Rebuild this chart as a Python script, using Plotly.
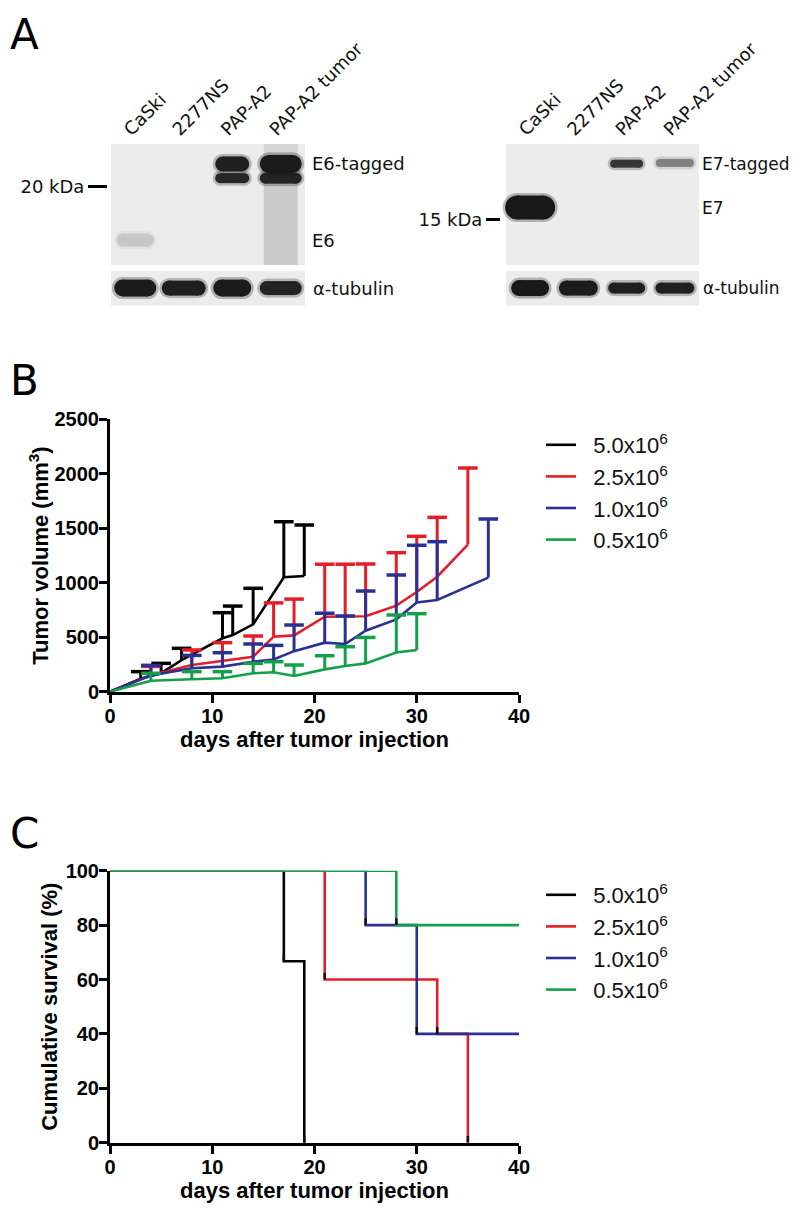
import plotly.graph_objects as go

# ---------------- DATA ----------------
lanes = ["CaSki", "2277NS", "PAP-A2", "PAP-A2 tumor"]

# E6 blot (apparent kDa)
e6_band_lane = [0, 2, 2, 3, 3]
e6_band_kda = [12.5, 23.2, 21.2, 23.2, 21.2]
e6_band_intensity = [0.13, 0.92, 0.88, 0.95, 0.9]
e6_smear_lane = [3, 3]
e6_smear_top = [26.0, 20.5]
e6_smear_bottom = [23.5, 9.0]
e6_smear_intensity = [0.10, 0.15]
e6_marker_kda = [20]
e6_marker_text = ["20 kDa"]
e6_labels = ["E6-tagged", "E6"]
e6_label_kda = [23.2, 12.5]

# E7 blot
e7_band_lane = [0, 2, 3]
e7_band_kda = [16.6, 22.4, 22.5]
e7_band_intensity = [0.97, 0.8, 0.42]
e7_marker_kda = [15]
e7_marker_text = ["15 kDa"]
e7_labels = ["E7-tagged", "E7"]
e7_label_kda = [22.4, 16.6]

# alpha-tubulin loading controls
tub_e6_intensity = [0.95, 0.93, 0.95, 0.9]
tub_e7_intensity = [0.97, 0.95, 0.93, 0.93]

# Panel B: tumor volume (mm3), mean and upper error
groups = ["5.0x10<sup>6</sup>", "2.5x10<sup>6</sup>", "1.0x10<sup>6</sup>", "0.5x10<sup>6</sup>"]
b_days = [
    [0, 3, 5, 7, 11, 12, 14, 17, 19],
    [0, 4, 8, 11, 14, 16, 18, 21, 23, 25, 28, 30, 32, 35],
    [0, 4, 8, 11, 14, 16, 18, 21, 23, 25, 28, 30, 32, 37],
    [0, 4, 8, 11, 14, 16, 18, 21, 23, 25, 28, 30],
]
b_mean = [
    [0, 120, 170, 290, 490, 520, 618, 1050, 1062],
    [0, 150, 245, 285, 321, 505, 517, 688, 688, 692, 790, 915, 1055, 1350],
    [0, 150, 215, 230, 275, 295, 372, 450, 438, 560, 664, 818, 842, 1047],
    [0, 100, 114, 123, 169, 178, 144, 205, 236, 260, 360, 383],
]
b_err = [
    [None, 64, 90, 108, 235, 266, 331, 510, 468],
    [None, 82, 138, 165, 190, 310, 333, 482, 482, 480, 486, 511, 545, 703],
    [None, 92, 118, 128, 163, 130, 240, 270, 257, 364, 407, 526, 535, 538],
    [None, 69, 70, 61, 91, 97, 101, 125, 177, 238, 344, 333],
]

# Panel C: Kaplan-Meier survival (%)
c_days = [
    [0, 17, 19],
    [0, 21, 32, 35],
    [0, 25, 30, 40],
    [0, 28, 40],
]
c_surv = [
    [100, 66.7, 0],
    [100, 60, 40, 0],
    [100, 80, 40, 40],
    [100, 80, 80],
]
c_event_days = [[17, 19], [21, 32, 35], [25, 30], [28]]
c_event_surv = [[66.7, 0], [60, 40, 0], [80, 40], [80]]

# ---------------- STYLE ----------------
colors = ["#000000", "#e31e26", "#2b3192", "#14a04a"]
PAGE_OFF = 8            # browser body margin
W, H = 800 - PAGE_OFF, 1211 - 2 * PAGE_OFF
AX_FONT = "Liberation Sans"
BLOT_FONT = "DejaVu Sans"
INK = "#141414"
LEG_PAD = "\u00a0\u00a0"

def px_x(p):
    return (p - PAGE_OFF) / W

def px_y(p):
    return 1 - (p - PAGE_OFF) / H

e6_thick = [13, 15, 10, 18, 11]
e6_width = [37, 34, 34, 42, 42]
e7_thick = [24, 8, 8]
e7_width = [50, 33, 38]
tub_e6_thick = [17, 15, 17, 14]
tub_e6_width = [42, 44, 38, 42]
tub_e7_thick = [16, 15, 11, 11]
tub_e7_width = [38, 39, 37, 39]

fig = go.Figure()

# ---------------- Panel A helpers ----------------
def add_band(xa, ya, lane, y, t_px, w_px, darkness, ppl):
    hl = max((w_px - t_px) / 2.0 / ppl, 0.0)
    for extra, op in ((5, 0.28 * darkness), (0, darkness)):
        t = t_px + extra
        fig.add_trace(go.Scatter(
            x=[lane - hl, lane + hl], y=[y, y], mode="lines+markers",
            xaxis=xa, yaxis=ya, line=dict(color=INK, width=t),
            marker=dict(size=t, color=INK, line=dict(width=0)),
            opacity=op, showlegend=False, hoverinfo="skip", cliponaxis=False))

left_ppl = (305 - 111) / 4.0
right_ppl = (699 - 506) / 4.0

for i in range(len(e6_smear_lane)):
    fig.add_trace(go.Scatter(
        x=[e6_smear_lane[i], e6_smear_lane[i]], y=[e6_smear_top[i], e6_smear_bottom[i]],
        mode="lines", xaxis="x3", yaxis="y3", line=dict(color=INK, width=34),
        opacity=e6_smear_intensity[i], showlegend=False, hoverinfo="skip"))
for i in range(len(e6_band_lane)):
    add_band("x3", "y3", e6_band_lane[i], e6_band_kda[i], e6_thick[i], e6_width[i],
             e6_band_intensity[i], left_ppl)
for i in range(4):
    add_band("x4", "y4", i, 0.5, tub_e6_thick[i], tub_e6_width[i], tub_e6_intensity[i], left_ppl)
for i in range(len(e7_band_lane)):
    add_band("x5", "y5", e7_band_lane[i], e7_band_kda[i], e7_thick[i], e7_width[i],
             e7_band_intensity[i], right_ppl)
for i in range(4):
    add_band("x6", "y6", i, 0.5, tub_e7_thick[i], tub_e7_width[i], tub_e7_intensity[i], right_ppl)

# ---------------- Panel B ----------------
for k in range(4):
    fig.add_trace(go.Scatter(
        x=b_days[k], y=b_mean[k], mode="lines", name=LEG_PAD + groups[k],
        line=dict(color=colors[k], width=2.6), xaxis="x", yaxis="y",
        legend="legend", legendgroup="b%d" % k, cliponaxis=False))
    ex, ey, cx, cy = [], [], [], []
    for d, m, e in zip(b_days[k], b_mean[k], b_err[k]):
        if e is None:
            continue
        ex += [d, d, None]
        ey += [m, m + e, None]
        cx.append(d)
        cy.append(m + e)
    fig.add_trace(go.Scatter(
        x=ex, y=ey, mode="lines", line=dict(color=colors[k], width=3),
        xaxis="x", yaxis="y", showlegend=False, hoverinfo="skip", cliponaxis=False))
    fig.add_trace(go.Scatter(
        x=cx, y=cy, mode="markers", xaxis="x", yaxis="y",
        marker=dict(symbol="line-ew", size=14, line=dict(color=colors[k], width=3.5)),
        showlegend=False, hoverinfo="skip", cliponaxis=False))

# ---------------- Panel C ----------------
for k in range(4):
    fig.add_trace(go.Scatter(
        x=c_days[k], y=c_surv[k], mode="lines", line_shape="hv", name=LEG_PAD + groups[k],
        line=dict(color=colors[k], width=2.6), xaxis="x2", yaxis="y2",
        legend="legend2", legendgroup="c%d" % k, cliponaxis=False))
for k in range(4):
    fig.add_trace(go.Scatter(
        x=c_event_days[k], y=c_event_surv[k], mode="markers", xaxis="x2", yaxis="y2",
        marker=dict(size=1, color="#111111", opacity=0),
        error_y=dict(type="constant", value=2.5, valueminus=0, symmetric=False,
                     width=0, thickness=2.5, color="#111111"),
        showlegend=False, hoverinfo="skip", cliponaxis=False))

# ---------------- Layout ----------------
dom_x = [px_x(110), px_x(519)]
ax_common = dict(showline=True, linewidth=3, linecolor="black", ticks="outside",
                 ticklen=8, tickwidth=3, tickcolor="black", showgrid=False,
                 zeroline=False, automargin=False, ticklabelstandoff=-4,
                 tickfont=dict(family=AX_FONT, size=20, color="black", weight="bold"))
title_font = dict(family=AX_FONT, size=22, color="black", weight="bold")

left_dom = [px_x(111), px_x(305)]
right_dom = [px_x(506), px_x(699)]
main_dom = [px_y(265), px_y(144)]
tub_dom = [px_y(305.5), px_y(270.7)]
blot_font = dict(family=BLOT_FONT, size=18, color="#111111")
blot_font_r = dict(family=BLOT_FONT, size=17, color="#111111")

hidden = dict(visible=False, showgrid=False, zeroline=False, automargin=False)

fig.update_layout(
    width=W, height=H, margin=dict(l=0, r=0, t=0, b=0, autoexpand=False),
    paper_bgcolor="white", plot_bgcolor="white",
    xaxis=dict(domain=dom_x, range=[0, 40], tickvals=[0, 10, 20, 30, 40], anchor="y",
               title=dict(text="days after tumor injection", font=title_font, standoff=6),
               **ax_common),
    yaxis=dict(domain=[px_y(691.7), px_y(419.3)], range=[0, 2500], dtick=500, anchor="x",
               title=dict(text="Tumor volume (mm<sup>3</sup>)", font=title_font, standoff=0),
               **ax_common),
    xaxis2=dict(domain=dom_x, range=[0, 40], tickvals=[0, 10, 20, 30, 40], anchor="y2",
                title=dict(text="days after tumor injection", font=title_font, standoff=6),
                **ax_common),
    yaxis2=dict(domain=[px_y(1142.7), px_y(870.7)], range=[0, 100], dtick=20, anchor="x2",
                title=dict(text="Cumulative survival (%)", font=title_font, standoff=2),
                **ax_common),
    xaxis3=dict(domain=left_dom, range=[-0.5, 3.5], anchor="y3", side="top",
                tickvals=[0, 1, 2, 3], ticktext=lanes, tickangle=-45, ticks="",
                ticklabelshift=-10,
                showline=False, showgrid=False, zeroline=False, automargin=False,
                tickfont=blot_font),
    yaxis3=dict(domain=main_dom, range=[9, 26], anchor="free", position=px_x(107),
                tickvals=e6_marker_kda, ticktext=e6_marker_text, ticks="outside",
                ticklen=19, tickwidth=3, tickcolor="black", showline=False,
                showgrid=False, zeroline=False, automargin=False, tickfont=blot_font),
    xaxis4=dict(domain=left_dom, range=[-0.5, 3.5], anchor="y4", **hidden),
    yaxis4=dict(domain=tub_dom, range=[0, 1], anchor="x4", **hidden),
    xaxis5=dict(domain=right_dom, range=[-0.5, 3.5], anchor="y5", side="top",
                tickvals=[0, 1, 2, 3], ticktext=lanes, tickangle=-45, ticks="",
                ticklabelshift=-10,
                showline=False, showgrid=False, zeroline=False, automargin=False,
                tickfont=blot_font),
    yaxis5=dict(domain=main_dom, range=[9, 25], anchor="free", position=px_x(500),
                tickvals=e7_marker_kda, ticktext=e7_marker_text, ticks="outside",
                ticklen=14, tickwidth=3, tickcolor="black", showline=False,
                showgrid=False, zeroline=False, automargin=False, tickfont=blot_font),
    xaxis6=dict(domain=right_dom, range=[-0.5, 3.5], anchor="y6", **hidden),
    yaxis6=dict(domain=tub_dom, range=[0, 1], anchor="x6", **hidden),
    legend=dict(x=px_x(541), y=px_y(424), xanchor="left", yanchor="top",
                font=dict(family=AX_FONT, size=22, color="#111111"),
                bgcolor="rgba(0,0,0,0)", tracegroupgap=0, itemwidth=30),
    legend2=dict(x=px_x(541), y=px_y(874), xanchor="left", yanchor="top",
                 font=dict(family=AX_FONT, size=22, color="#111111"),
                 bgcolor="rgba(0,0,0,0)", tracegroupgap=0, itemwidth=30),
    showlegend=True,
)

# blot backgrounds
for xa, ya in (("x3", "y3"), ("x4", "y4"), ("x5", "y5"), ("x6", "y6")):
    fig.add_shape(type="rect", xref=xa + " domain", yref=ya + " domain",
                  x0=0, x1=1, y0=0, y1=1, fillcolor="#ececec", line=dict(width=0),
                  layer="below")

# blot labels
for txt, kda in zip(e6_labels, e6_label_kda):
    fig.add_annotation(text=txt, xref="x3 domain", x=1, xanchor="left", xshift=5,
                       yref="y3", y=kda, showarrow=False, font=blot_font)
fig.add_annotation(text="α-tubulin", xref="x4 domain", x=1, xanchor="left", xshift=6,
                   yref="y4", y=0.5, showarrow=False, font=blot_font)
for txt, kda in zip(e7_labels, e7_label_kda):
    fig.add_annotation(text=txt, xref="x5 domain", x=1, xanchor="left", xshift=1,
                       yref="y5", y=kda, showarrow=False, font=blot_font_r)
fig.add_annotation(text="α-tubulin", xref="x6 domain", x=1, xanchor="left", xshift=2,
                   yref="y6", y=0.5, showarrow=False, font=blot_font_r)

# panel letters
letter_font = dict(family=BLOT_FONT, size=42, color="black")
fig.add_annotation(text="A", xref="paper", yref="paper", x=0, y=1,
                   xanchor="left", yanchor="top", showarrow=False, font=letter_font)
for letter, cy in (("B", 381), ("C", 833)):
    fig.add_annotation(text=letter, xref="paper", yref="paper", x=0, y=px_y(cy),
                       xanchor="left", yanchor="middle", showarrow=False, font=letter_font)

fig.write_html("out.html")
